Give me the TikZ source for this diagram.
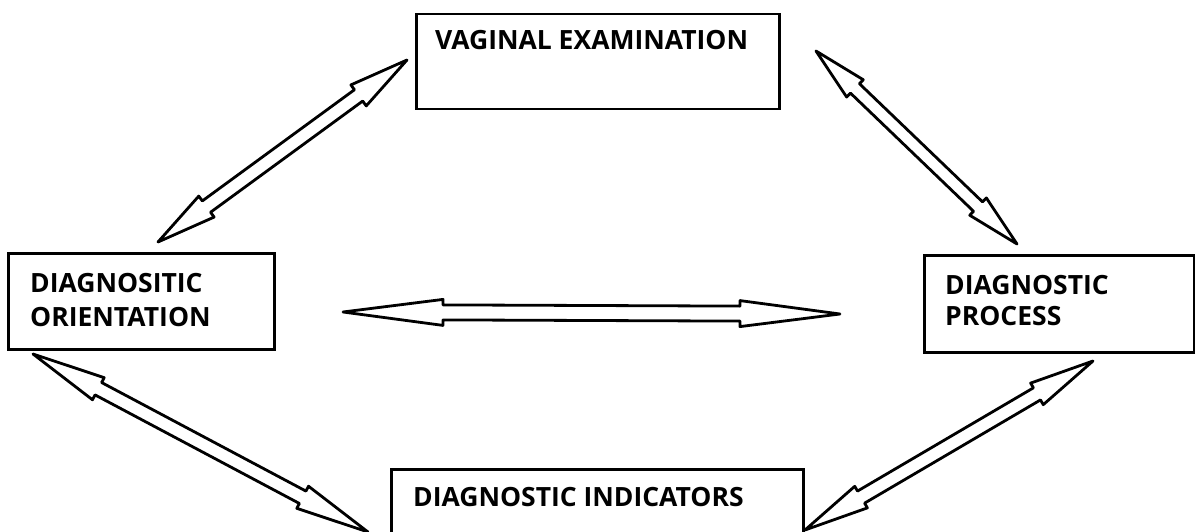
\documentclass[tikz,border=0pt]{standalone}
\usepackage{fontspec}
\setmainfont{Open Sans}
\usetikzlibrary{calc}
\tikzset{
  box/.style={draw, line width=2.5pt, rectangle, inner sep=0pt},
  lbl/.style={anchor=north west, inner sep=0pt, align=left,
    font=\fontsize{26.5}{34}\selectfont\bfseries},
  hollow/.style={draw, line width=2.8pt, line join=round, fill=white}
}
% #1 tip A, #2 tip B, #3 head length, #4 head half width, #5 shaft half width
\newcommand\hollowarrow[5]{%
  \draw[hollow] (#1)
    -- ($(#1)!#3!(#2)!#4!90:(#2)$)
    -- ($(#1)!#3!(#2)!#5!90:(#2)$)
    -- ($(#2)!#3!(#1)!#5!-90:(#1)$)
    -- ($(#2)!#3!(#1)!#4!-90:(#1)$)
    -- (#2)
    -- ($(#2)!#3!(#1)!#4!90:(#1)$)
    -- ($(#2)!#3!(#1)!#5!90:(#1)$)
    -- ($(#1)!#3!(#2)!#5!-90:(#2)$)
    -- ($(#1)!#3!(#2)!#4!-90:(#2)$)
    -- cycle;}
\begin{document}
\begin{tikzpicture}[x=1pt,y=-1pt]
\useasboundingbox (0,0) rectangle (1195,532);
\clip (0,0) rectangle (1195,532);
\fill[white] (0,0) rectangle (1195,532);

% boxes
\node[box, anchor=north west, minimum width=363pt, minimum height=95pt] (ve) at (415,13) {};
\node[box, anchor=north west, minimum width=266pt, minimum height=96pt] (do) at (7,252) {};
\node[box, anchor=north west, minimum width=270pt, minimum height=97pt] (dp) at (923,254) {};
\node[box, anchor=north west, minimum width=412pt, minimum height=90pt] (di) at (390,468) {};

% texts
\node[lbl] (tve) at (435,30) {VAGINAL EXAMINATION};
\node[lbl] (tdo) at (30,273) {DIAGNOSITIC\\ORIENTATION};
\node[lbl, font=\fontsize{26.5}{31.5}\selectfont\bfseries] (tdp) at (945,275) {DIAGNOSTIC\\PROCESS};
\node[lbl] (tdi) at (413,487) {DIAGNOSTIC INDICATORS};

% arrow tips
\coordinate (ve-do) at (407,60);
\coordinate (do-ve) at (158,242);
\coordinate (ve-dp) at (816,51);
\coordinate (dp-ve) at (1017,244);
\coordinate (do-dp) at (343,312);
\coordinate (dp-do) at (840,314);
\coordinate (do-di) at (33,354);
\coordinate (di-do) at (368,532);
\coordinate (di-dp) at (805,530);
\coordinate (dp-di) at (1093,361);

% connectors
\hollowarrow{ve-do}{do-ve}{60pt}{13pt}{7pt}
\hollowarrow{ve-dp}{dp-ve}{54pt}{12pt}{6.5pt}
\hollowarrow{do-dp}{dp-do}{100pt}{13pt}{7.5pt}
\hollowarrow{do-di}{di-do}{74pt}{12.5pt}{7pt}
\hollowarrow{di-dp}{dp-di}{65pt}{12.5pt}{7pt}
\end{tikzpicture}
\end{document}
